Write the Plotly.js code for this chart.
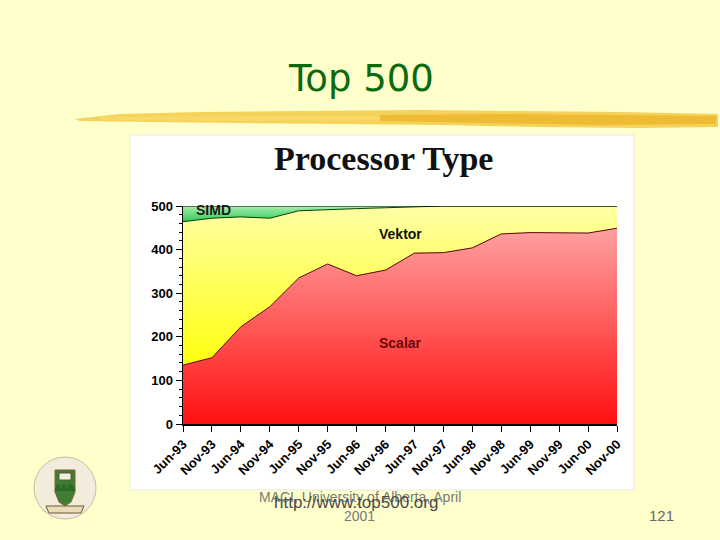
<!DOCTYPE html>
<html>
<head>
<meta charset="utf-8">
<script src="https://cdn.plot.ly/plotly-3.0.1.min.js"></script>
<style>html,body{margin:0;padding:0;background:#ffffcc;}#chart{width:720px;height:540px;}</style>
</head>
<body>
<div id="chart"></div>
<script>
// ---- data ----
const lists = ["Jun-93","Nov-93","Jun-94","Nov-94","Jun-95","Nov-95","Jun-96","Nov-96",
               "Jun-97","Nov-97","Jun-98","Nov-98","Jun-99","Nov-99","Jun-00","Nov-00"];
const scalar = [135,152,223,269,335,367,340,353,392,393,404,436,439,438,438,449];
const vektor = [329,320,252,203,154,125,154,143,106,107, 96, 64, 61, 62, 62, 51];
const simd   = [ 36, 28, 25, 28, 11,  8,  6,  4,  2,  0,  0,  0,  0,  0,  0,  0];
const yTicks = [0,100,200,300,400,500];

// ---- layout helpers (pixel -> paper) ----
const L = 183, R = 617, T = 206, B = 424;
const px = x => (x - L) / (R - L);
const py = y => (B - y) / (B - T);
const path = pts => 'M ' + pts.map(p => px(p[0]).toFixed(4) + ',' + py(p[1]).toFixed(4)).join(' L ') + ' Z';

const traces = [
  {x: lists, y: scalar, name: 'Scalar', type: 'scatter', mode: 'lines', stackgroup: 'one',
   line: {color: '#5a0000', width: 1},
   fillgradient: {type: 'vertical', start: 0, stop: 460, colorscale: [[0, '#ff1010'], [1, '#ffa4a4']]},
   hoverinfo: 'skip'},
  {x: lists, y: vektor, name: 'Vektor', type: 'scatter', mode: 'lines', stackgroup: 'one',
   line: {color: '#004400', width: 1},
   fillgradient: {type: 'vertical', start: 120, stop: 500, colorscale: [[0, '#ffff08'], [1, '#ffffa6']]},
   hoverinfo: 'skip'},
  {x: lists, y: simd, name: 'SIMD', type: 'scatter', mode: 'lines', stackgroup: 'one',
   line: {color: '#000000', width: 1.2},
   fillgradient: {type: 'vertical', start: 462, stop: 500, colorscale: [[0, '#2ec850'], [1, '#a6eeb0']]},
   hoverinfo: 'skip'}
];

const tickFont = {family: 'Liberation Sans, Arial, sans-serif', size: 13, color: '#000', weight: 'bold'};

const shapes = [
  // white chart panel
  {type: 'rect', xref: 'paper', yref: 'paper', x0: px(130), x1: px(634), y0: py(490), y1: py(135),
   fillcolor: '#ffffff', line: {color: '#f4f4e0', width: 2}, layer: 'below'},
  // brush stroke under the title
  {type: 'path', xref: 'paper', yref: 'paper', layer: 'below', fillcolor: 'rgba(242,196,52,0.75)', line: {width: 0},
   path: path([[75,119],[120,114],[200,112],[300,111],[420,110],[520,111],[620,112],[718,114],
               [718,127],[640,128],[540,127],[440,125],[340,124],[240,123],[150,122],[80,121]])},
  {type: 'path', xref: 'paper', yref: 'paper', layer: 'below', fillcolor: 'rgba(232,168,24,0.55)', line: {width: 0},
   path: path([[380,115],[500,114],[620,115],[716,116],[716,124],[600,125],[480,123],[380,121]])},
  {type: 'path', xref: 'paper', yref: 'paper', layer: 'below', fillcolor: 'rgba(250,220,110,0.6)', line: {width: 0},
   path: path([[100,117],[250,116],[380,116],[380,120],[250,121],[100,120]])},
  // university crest (approximation)
  {type: 'circle', xref: 'paper', yref: 'paper', layer: 'below', x0: px(34), x1: px(96), y0: py(519), y1: py(457),
   fillcolor: '#f3ecdc', line: {color: '#c8bca0', width: 1}},
  {type: 'path', xref: 'paper', yref: 'paper', layer: 'below', fillcolor: '#3f7d34', line: {color: '#7a6a30', width: 1},
   path: path([[55,470],[75,470],[75,492],[71,502],[65,506],[59,502],[55,492]])},
  {type: 'rect', xref: 'paper', yref: 'paper', layer: 'below', x0: px(59), x1: px(71), y0: py(480), y1: py(473),
   fillcolor: '#f0f0e0', line: {color: '#5a5a30', width: 1}},
  {type: 'path', xref: 'paper', yref: 'paper', layer: 'below', fillcolor: '#2c6a2a', line: {width: 0},
   path: path([[55,488],[58,483],[61,488],[64,483],[67,488],[70,483],[75,488],[75,491],[55,491]])},
  {type: 'path', xref: 'paper', yref: 'paper', layer: 'below', fillcolor: '#e8dcb8', line: {color: '#6a5a30', width: 1},
   path: path([[46,506],[84,506],[81,513],[49,513]])}
];

const ann = (text, x, y, font, extra) => Object.assign({text, x, y, xref: 'paper', yref: 'paper',
  showarrow: false, font, xanchor: 'center', yanchor: 'middle'}, extra || {});

const annotations = [
  ann('Top 500', px(361), py(78), {family: 'DejaVu Sans, sans-serif', size: 37, color: '#0b6a0b'}),
  ann('Processor Type', px(383), py(158), {family: 'Liberation Serif, Times New Roman, serif', size: 34, color: '#111', weight: 'bold'}),
  {text: 'SIMD', x: 1.07, y: 491, xref: 'x', yref: 'y', showarrow: false,
   font: {family: 'Liberation Sans, Arial, sans-serif', size: 14, color: '#1a1a1a', weight: 'bold'}},
  {text: 'Vektor', x: 7.5, y: 436, xref: 'x', yref: 'y', showarrow: false,
   font: {family: 'Liberation Sans, Arial, sans-serif', size: 14, color: '#111', weight: 'bold'}},
  {text: 'Scalar', x: 7.5, y: 186, xref: 'x', yref: 'y', showarrow: false,
   font: {family: 'Liberation Sans, Arial, sans-serif', size: 14, color: '#6a0a0a', weight: 'bold'}},
  ann('MACI, University of Alberta, April', px(360), py(497), {family: 'Liberation Sans Narrow, Liberation Sans, Arial, sans-serif', size: 14, color: '#7a7a7a'}),
  ann('2001', px(359), py(516), {family: 'Liberation Sans Narrow, Liberation Sans, Arial, sans-serif', size: 14, color: '#7a7a7a'}),
  ann('http://www.top500.org', px(356), py(502), {family: 'Liberation Sans Narrow, Liberation Sans, Arial, sans-serif', size: 17, color: '#4a4a4a'}),
  ann('121', px(661), py(515), {family: 'Liberation Sans Narrow, Liberation Sans, Arial, sans-serif', size: 15, color: '#666'})
];

const layout = {
  width: 720, height: 540,
  margin: {l: L, r: 720 - R, t: T, b: 540 - B, pad: 0},
  paper_bgcolor: '#ffffcc',
  plot_bgcolor: 'rgba(0,0,0,0)',
  showlegend: false,
  xaxis: {type: 'category', categoryorder: 'array', categoryarray: lists, range: [0, lists.length - 1],
          tickangle: -45, tickfont: tickFont, ticks: 'outside', ticklen: 6, tickcolor: '#000',
          showline: true, linecolor: '#000', linewidth: 1.5, showgrid: false, zeroline: false, fixedrange: true},
  yaxis: {range: [0, 500], tickvals: yTicks, ticktext: yTicks.map(String), tickfont: tickFont,
          ticks: 'outside', ticklen: 6, tickcolor: '#000',
          minor: {dtick: 20, ticks: 'outside', ticklen: 3, tickcolor: '#000', showgrid: false},
          showline: true, linecolor: '#000', linewidth: 1.5, showgrid: false, zeroline: false, fixedrange: true},
  shapes, annotations
};

Plotly.newPlot('chart', traces, layout, {staticPlot: true, displayModeBar: false});
</script>
</body>
</html>
